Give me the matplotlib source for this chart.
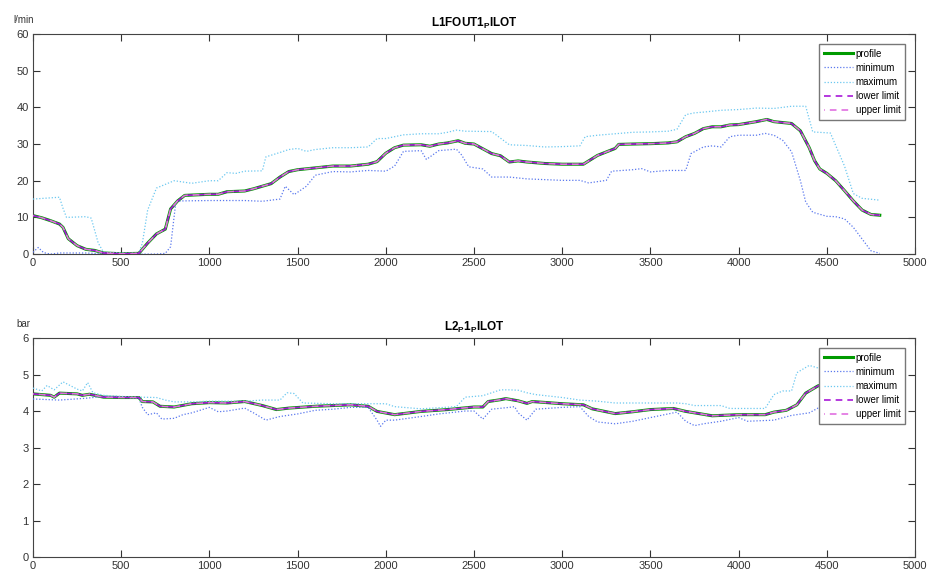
import matplotlib
matplotlib.use("Agg")
import matplotlib.pyplot as plt

plt.rcParams['font.family'] = ['Liberation Sans', 'DejaVu Sans']
plt.rcParams['mathtext.fontset'] = 'custom'
plt.rcParams['mathtext.rm'] = 'Liberation Sans'
plt.rcParams['mathtext.bf'] = 'Liberation Sans:bold'

# flow panel (l/min)
prof1_x = [0, 50, 100, 150, 170, 200, 250, 300, 350, 400, 500, 600, 650, 700, 750, 780, 820, 860, 1000, 1050,
           1100, 1200, 1250, 1300, 1350, 1400, 1450, 1500, 1600, 1700, 1800, 1900, 1950, 2000, 2050, 2100, 2200, 2250, 2300, 2350,
           2410, 2450, 2500, 2600, 2650, 2700, 2750, 2800, 2900, 3000, 3120, 3200, 3300, 3320, 3400, 3500, 3600, 3650, 3700, 3750,
           3800, 3850, 3900, 3950, 4000, 4100, 4160, 4200, 4300, 4350, 4400, 4430, 4460, 4500, 4550, 4600, 4650, 4700, 4750, 4800]
prof1_y = [10.5, 9.9, 9.1, 8.2, 7.3, 4.2, 2.3, 1.3, 1.0, 0.3, 0.1, 0.2, 3.0, 5.5, 6.8, 12.3, 14.5, 16.0, 16.3, 16.3,
           17.0, 17.2, 17.8, 18.5, 19.2, 21.0, 22.5, 23.0, 23.5, 24.0, 24.0, 24.5, 25.2, 27.5, 29.0, 29.7, 29.8, 29.4, 30.0, 30.3,
           30.9, 30.2, 30.0, 27.4, 26.8, 25.1, 25.4, 25.1, 24.7, 24.5, 24.5, 26.9, 28.8, 29.9, 30.0, 30.1, 30.3, 30.6, 32.0, 32.9,
           34.2, 34.7, 34.7, 35.2, 35.3, 36.1, 36.7, 36.1, 35.6, 33.6, 29.0, 25.5, 23.2, 22.0, 20.0, 17.3, 14.5, 12.0, 10.8, 10.6]

max1_x = [0, 150, 170, 190, 300, 330, 370, 400, 600, 620, 650, 700, 800, 900, 1000, 1050, 1100, 1150, 1200, 1300,
          1320, 1400, 1450, 1500, 1550, 1600, 1700, 1800, 1900, 1950, 2000, 2050, 2100, 2200, 2300, 2350, 2400, 2450, 2600, 2700,
          2800, 2900, 3000, 3100, 3130, 3200, 3300, 3400, 3500, 3600, 3650, 3700, 3750, 3800, 3900, 4000, 4100, 4200, 4300, 4380,
          4420, 4520, 4600, 4650, 4700, 4800]
max1_y = [15.0, 15.5, 12.5, 10.0, 10.2, 9.8, 3.0, 0.5, 0.2, 3.0, 12.0, 18.0, 20.0, 19.3, 20.0, 20.0, 22.2, 22.0, 22.6, 22.7,
          26.5, 27.7, 28.5, 28.8, 28.0, 28.5, 29.0, 29.0, 29.2, 31.5, 31.5, 32.0, 32.5, 32.8, 32.8, 33.2, 33.8, 33.5, 33.4, 29.8,
          29.6, 29.2, 29.3, 29.5, 32.0, 32.4, 32.8, 33.2, 33.3, 33.5, 34.0, 38.0, 38.5, 38.7, 39.2, 39.4, 39.8, 39.7, 40.3, 40.3,
          33.3, 33.0, 24.0, 16.5, 15.2, 14.7]

min1_x = [0, 30, 60, 100, 150, 300, 350, 400, 700, 750, 780, 810, 850, 1000, 1200, 1300, 1400, 1430, 1480, 1550,
          1600, 1700, 1800, 1900, 2000, 2050, 2100, 2200, 2230, 2300, 2400, 2430, 2470, 2550, 2600, 2700, 2800, 3000, 3100, 3150,
          3250, 3280, 3400, 3450, 3500, 3600, 3700, 3730, 3800, 3850, 3900, 3950, 4000, 4100, 4150, 4200, 4250, 4300, 4350, 4380,
          4420, 4500, 4550, 4600, 4650, 4700, 4750, 4800]
min1_y = [0.5, 1.8, 0.4, 0.0, 0.3, 0.3, 0.2, 0.0, 0.0, 0.2, 2.0, 14.3, 14.5, 14.6, 14.6, 14.4, 15.0, 18.5, 16.2, 18.5,
          21.5, 22.5, 22.4, 22.8, 22.6, 24.0, 28.0, 28.2, 25.8, 28.2, 28.6, 27.0, 23.8, 23.2, 21.0, 21.0, 20.5, 20.1, 20.1, 19.4,
          20.1, 22.6, 23.0, 23.3, 22.4, 22.8, 22.8, 27.4, 29.2, 29.5, 29.2, 32.0, 32.4, 32.4, 32.9, 32.4, 31.0, 27.9, 20.0, 14.2,
          11.4, 10.3, 10.2, 9.6, 7.3, 4.1, 0.9, 0.2]

# pressure panel (bar)
prof2_x = [0, 100, 120, 150, 250, 280, 320, 400, 500, 600, 620, 680, 720, 800, 900, 1000, 1100, 1200, 1300, 1380,
           1450, 1600, 1800, 1850, 1900, 1950, 2050, 2200, 2350, 2500, 2550, 2580, 2650, 2680, 2750, 2800, 2830, 3000, 3120, 3170,
           3300, 3400, 3500, 3630, 3700, 3850, 4000, 4150, 4200, 4270, 4330, 4380, 4450, 4480, 4500, 4600, 4700, 4800]
prof2_y = [4.47, 4.43, 4.38, 4.49, 4.47, 4.43, 4.46, 4.38, 4.37, 4.37, 4.26, 4.25, 4.13, 4.11, 4.20, 4.23, 4.22, 4.26, 4.15, 4.04,
           4.08, 4.13, 4.17, 4.15, 4.13, 3.99, 3.90, 3.99, 4.04, 4.11, 4.11, 4.26, 4.31, 4.34, 4.28, 4.21, 4.26, 4.20, 4.17, 4.06,
           3.93, 3.98, 4.04, 4.07, 3.99, 3.87, 3.90, 3.90, 3.97, 4.02, 4.17, 4.49, 4.69, 4.72, 4.68, 4.70, 4.70, 4.70]

max2_x = [0, 50, 80, 120, 170, 250, 280, 310, 340, 400, 500, 600, 700, 750, 800, 900, 1000, 1200, 1300, 1400,
          1440, 1480, 1530, 1700, 1900, 2000, 2050, 2200, 2400, 2450, 2550, 2650, 2700, 2750, 2800, 2850, 3000, 3100, 3200, 3300,
          3500, 3650, 3700, 3750, 3900, 3950, 4150, 4200, 4250, 4300, 4330, 4400, 4450, 4500, 4600, 4700, 4800]
max2_y = [4.63, 4.55, 4.70, 4.58, 4.80, 4.60, 4.55, 4.78, 4.50, 4.43, 4.40, 4.38, 4.37, 4.30, 4.25, 4.25, 4.27, 4.27, 4.30, 4.30,
          4.50, 4.48, 4.22, 4.20, 4.20, 4.20, 4.12, 4.06, 4.12, 4.38, 4.42, 4.58, 4.58, 4.57, 4.50, 4.45, 4.37, 4.30, 4.27, 4.22,
          4.22, 4.22, 4.20, 4.15, 4.15, 4.07, 4.07, 4.45, 4.55, 4.55, 5.05, 5.25, 5.18, 5.04, 4.95, 4.90, 4.90]

min2_x = [0, 150, 300, 400, 500, 600, 620, 650, 700, 730, 800, 850, 900, 1000, 1050, 1100, 1200, 1250, 1320, 1400,
          1500, 1600, 1700, 1800, 1900, 1950, 1970, 2000, 2050, 2200, 2300, 2450, 2500, 2550, 2600, 2700, 2730, 2750, 2800, 2850,
          3000, 3100, 3150, 3200, 3300, 3400, 3500, 3650, 3700, 3750, 3800, 3900, 4000, 4050, 4200, 4300, 4400, 4450, 4500, 4600,
          4700, 4800]
min2_y = [4.33, 4.30, 4.35, 4.40, 4.38, 4.35, 4.10, 3.90, 3.95, 3.78, 3.80, 3.90, 3.95, 4.10, 3.98, 4.00, 4.08, 3.95, 3.75, 3.85,
          3.92, 4.02, 4.05, 4.10, 4.10, 3.75, 3.58, 3.75, 3.75, 3.85, 3.92, 4.00, 4.00, 3.78, 4.05, 4.10, 4.12, 3.95, 3.75, 4.05,
          4.10, 4.12, 3.85, 3.70, 3.65, 3.72, 3.82, 3.97, 3.72, 3.60, 3.65, 3.72, 3.82, 3.72, 3.75, 3.88, 3.95, 4.08, 4.10, 4.10,
          4.10, 4.10]

titles = [r'L1FOUT1$_{\mathbf{P}}$ILOT', r'L2$_{\mathbf{P}}$1$_{\mathbf{P}}$ILOT']
units = ['l/min', 'bar']
ylims = [(0, 60, 10), (0, 6, 1)]

fig = plt.figure(figsize=(9.29, 5.71), dpi=100)
ax1 = fig.add_axes([0.0355, 0.555, 0.9495, 0.3855])
ax2 = fig.add_axes([0.0355, 0.0245, 0.9495, 0.3835])

panels = [
    (ax1, prof1_x, prof1_y, min1_x, min1_y, max1_x, max1_y),
    (ax2, prof2_x, prof2_y, min2_x, min2_y, max2_x, max2_y),
]

for k, (ax, px, py, mnx, mny, mxx, mxy) in enumerate(panels):
    ax.plot(px, py, color='#009a00', lw=2.2, label='profile', zorder=2)
    ax.plot(mnx, mny, color='#5a78ee', lw=0.9, ls=(0, (1, 1.5)), label='minimum', zorder=3)
    ax.plot(mxx, mxy, color='#6cc8f0', lw=0.9, ls=(0, (1, 1.5)), label='maximum', zorder=3)
    ax.plot(px, py, color='#a818d8', lw=1.2, ls=(0, (4, 3)), label='lower limit', zorder=4)
    ax.plot(px, py, color='#e070e0', lw=1.2, ls=(3.5, (4, 3)), label='upper limit', zorder=4)

    lo, hi, step = ylims[k]
    ax.set_xlim(0, 5000)
    ax.set_ylim(lo, hi)
    ax.set_xticks(range(0, 5001, 500))
    ax.set_yticks([lo + step * i for i in range(7)])
    ax.tick_params(direction='in', top=True, right=True, length=5, width=0.8,
                   labelsize=8, colors='#333333', pad=3)
    for s in ax.spines.values():
        s.set_color('#444444')
        s.set_linewidth(0.8)

    ax.set_title(titles[k], fontsize=8.5, fontweight='bold', pad=5)
    ax.text(-0.011, 1.04, units[k], transform=ax.transAxes, ha='center', va='bottom',
            fontsize=7, color='#333333')

    leg = ax.legend(loc='upper right', bbox_to_anchor=(0.989, 0.955), fontsize=7, fancybox=False,
                    framealpha=1, edgecolor='#777777', handlelength=3.0, handletextpad=0.3,
                    borderpad=0.5, labelspacing=0.42, borderaxespad=0)
    leg.get_frame().set_linewidth(1.0)

fig.savefig('out.png', dpi=100)
